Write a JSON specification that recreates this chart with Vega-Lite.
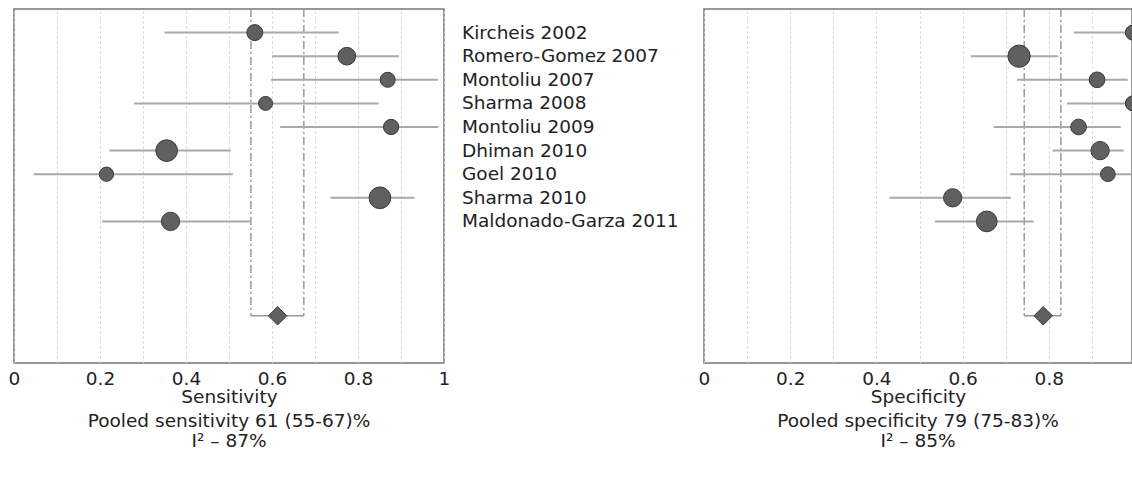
{
  "$schema": "https://vega.github.io/schema/vega-lite/v6.json",
  "padding": {"left": 7, "top": 7, "right": 0, "bottom": 5},
  "datasets": {
    "sens": [
      {"study": "Kircheis 2002", "est": 0.56, "lo": 0.35, "hi": 0.755, "weight": 16},
      {"study": "Romero-Gomez 2007", "est": 0.774, "lo": 0.6, "hi": 0.895, "weight": 17.7},
      {"study": "Montoliu 2007", "est": 0.869, "lo": 0.598, "hi": 0.986, "weight": 15},
      {"study": "Sharma 2008", "est": 0.585, "lo": 0.279, "hi": 0.848, "weight": 14},
      {"study": "Montoliu 2009", "est": 0.877, "lo": 0.619, "hi": 0.987, "weight": 15.3},
      {"study": "Dhiman 2010", "est": 0.355, "lo": 0.222, "hi": 0.504, "weight": 21.7},
      {"study": "Goel 2010", "est": 0.215, "lo": 0.046, "hi": 0.509, "weight": 14.3},
      {"study": "Sharma 2010", "est": 0.851, "lo": 0.736, "hi": 0.931, "weight": 21.7},
      {"study": "Maldonado-Garza 2011", "est": 0.364, "lo": 0.205, "hi": 0.551, "weight": 18.3}
    ],
    "spec": [
      {"study": "Kircheis 2002", "est": 0.995, "lo": 0.858, "hi": 1.0, "weight": 15},
      {"study": "Romero-Gomez 2007", "est": 0.731, "lo": 0.619, "hi": 0.821, "weight": 22.3},
      {"study": "Montoliu 2007", "est": 0.912, "lo": 0.726, "hi": 0.983, "weight": 15.7},
      {"study": "Sharma 2008", "est": 0.995, "lo": 0.842, "hi": 1.0, "weight": 15},
      {"study": "Montoliu 2009", "est": 0.869, "lo": 0.672, "hi": 0.967, "weight": 15.7},
      {"study": "Dhiman 2010", "est": 0.919, "lo": 0.809, "hi": 0.974, "weight": 18.3},
      {"study": "Goel 2010", "est": 0.937, "lo": 0.71, "hi": 1.0, "weight": 14.7},
      {"study": "Sharma 2010", "est": 0.577, "lo": 0.43, "hi": 0.712, "weight": 18.3},
      {"study": "Maldonado-Garza 2011", "est": 0.656, "lo": 0.536, "hi": 0.765, "weight": 20.7}
    ],
    "pooled": [
      {"panel": "sens", "study": "Pooled", "est": 0.613, "lo": 0.551, "hi": 0.674},
      {"panel": "spec", "study": "Pooled", "est": 0.787, "lo": 0.743, "hi": 0.828}
    ]
  },
  "hconcat": [
    {
      "width": 430,
      "height": 354,
      "title": {"text": ["Pooled sensitivity 61 (55-67)%", "I² – 87%"]},
      "layer": [
        {
          "data": {"name": "pooled"},
          "transform": [{"filter": "datum.panel == 'sens'"}],
          "mark": {"type": "rule", "color": "#9a9a9a", "strokeWidth": 1.5, "strokeDash": [8, 3, 2, 3]},
          "encoding": {
            "x": {"field": "lo", "type": "quantitative", "title": "Sensitivity", "scale": {"domain": [0, 1], "nice": false, "zero": false}, "axis": {"values": [0, 0.1, 0.2, 0.3, 0.4, 0.5, 0.6, 0.7, 0.8, 0.9, 1]}},
            "y": {"datum": "_t0", "type": "ordinal", "axis": null, "scale": {"type": "point", "padding": 0, "domain": ["_t0", "Kircheis 2002", "Romero-Gomez 2007", "Montoliu 2007", "Sharma 2008", "Montoliu 2009", "Dhiman 2010", "Goel 2010", "Sharma 2010", "Maldonado-Garza 2011", "_g1", "_g2", "_g3", "Pooled", "_b1", "_b2"]}},
            "y2": {"datum": "Pooled"}
          }
        },
        {
          "data": {"name": "pooled"},
          "transform": [{"filter": "datum.panel == 'sens'"}],
          "mark": {"type": "rule", "color": "#9a9a9a", "strokeWidth": 1.5, "strokeDash": [8, 3, 2, 3]},
          "encoding": {
            "x": {"field": "hi", "type": "quantitative", "title": "Sensitivity"},
            "y": {"datum": "_t0", "type": "ordinal", "axis": null},
            "y2": {"datum": "Pooled"}
          }
        },
        {
          "data": {"name": "pooled"},
          "transform": [{"filter": "datum.panel == 'sens'"}],
          "mark": {"type": "rule", "color": "#9a9a9a", "strokeWidth": 1.5},
          "encoding": {
            "x": {"field": "lo", "type": "quantitative", "title": "Sensitivity"},
            "x2": {"field": "hi"},
            "y": {"field": "study", "type": "ordinal", "axis": null}
          }
        },
        {
          "data": {"name": "sens"},
          "mark": {"type": "rule", "color": "#a9a9a9", "strokeWidth": 2},
          "encoding": {
            "x": {"field": "lo", "type": "quantitative", "title": "Sensitivity"},
            "x2": {"field": "hi"},
            "y": {"field": "study", "type": "ordinal", "axis": null}
          }
        },
        {
          "data": {"name": "sens"},
          "mark": {"type": "circle", "opacity": 1, "fill": "#606060", "stroke": "#3a3a3a", "strokeWidth": 1},
          "encoding": {
            "x": {"field": "est", "type": "quantitative", "title": "Sensitivity"},
            "y": {"field": "study", "type": "ordinal", "axis": null},
            "size": {"field": "weight", "type": "quantitative", "legend": null, "scale": {"type": "pow", "exponent": 2, "domain": [0, 20], "range": [0, 400]}}
          }
        },
        {
          "data": {"name": "pooled"},
          "transform": [{"filter": "datum.panel == 'sens'"}],
          "mark": {"type": "point", "shape": "diamond", "filled": true, "opacity": 1, "fill": "#606060", "stroke": "#3a3a3a", "strokeWidth": 1, "size": 340},
          "encoding": {
            "x": {"field": "est", "type": "quantitative", "title": "Sensitivity"},
            "y": {"field": "study", "type": "ordinal", "axis": null}
          }
        },
        {
          "data": {"name": "sens"},
          "mark": {"type": "text", "align": "left", "baseline": "middle", "dx": 18, "fontSize": 18.5, "color": "#222222"},
          "encoding": {
            "x": {"datum": 1, "type": "quantitative"},
            "y": {"field": "study", "type": "ordinal", "axis": null},
            "text": {"field": "study"}
          }
        }
      ]
    },
    {
      "width": 428,
      "height": 354,
      "title": {"text": ["Pooled specificity 79 (75-83)%", "I² – 85%"]},
      "layer": [
        {
          "data": {"name": "pooled"},
          "transform": [{"filter": "datum.panel == 'spec'"}],
          "mark": {"type": "rule", "color": "#9a9a9a", "strokeWidth": 1.5, "strokeDash": [8, 3, 2, 3]},
          "encoding": {
            "x": {"field": "lo", "type": "quantitative", "title": "Specificity", "scale": {"domain": [0, 0.993], "nice": false, "zero": false}, "axis": {"values": [0, 0.1, 0.2, 0.3, 0.4, 0.5, 0.6, 0.7, 0.8, 0.9]}},
            "y": {"datum": "_t0", "type": "ordinal", "axis": null, "scale": {"type": "point", "padding": 0, "domain": ["_t0", "Kircheis 2002", "Romero-Gomez 2007", "Montoliu 2007", "Sharma 2008", "Montoliu 2009", "Dhiman 2010", "Goel 2010", "Sharma 2010", "Maldonado-Garza 2011", "_g1", "_g2", "_g3", "Pooled", "_b1", "_b2"]}},
            "y2": {"datum": "Pooled"}
          }
        },
        {
          "data": {"name": "pooled"},
          "transform": [{"filter": "datum.panel == 'spec'"}],
          "mark": {"type": "rule", "color": "#9a9a9a", "strokeWidth": 1.5, "strokeDash": [8, 3, 2, 3]},
          "encoding": {
            "x": {"field": "hi", "type": "quantitative", "title": "Specificity"},
            "y": {"datum": "_t0", "type": "ordinal", "axis": null},
            "y2": {"datum": "Pooled"}
          }
        },
        {
          "data": {"name": "pooled"},
          "transform": [{"filter": "datum.panel == 'spec'"}],
          "mark": {"type": "rule", "color": "#9a9a9a", "strokeWidth": 1.5},
          "encoding": {
            "x": {"field": "lo", "type": "quantitative", "title": "Specificity"},
            "x2": {"field": "hi"},
            "y": {"field": "study", "type": "ordinal", "axis": null}
          }
        },
        {
          "data": {"name": "spec"},
          "mark": {"type": "rule", "color": "#a9a9a9", "strokeWidth": 2, "clip": true},
          "encoding": {
            "x": {"field": "lo", "type": "quantitative", "title": "Specificity"},
            "x2": {"field": "hi"},
            "y": {"field": "study", "type": "ordinal", "axis": null}
          }
        },
        {
          "data": {"name": "spec"},
          "mark": {"type": "circle", "opacity": 1, "fill": "#606060", "stroke": "#3a3a3a", "strokeWidth": 1, "clip": true},
          "encoding": {
            "x": {"field": "est", "type": "quantitative", "title": "Specificity"},
            "y": {"field": "study", "type": "ordinal", "axis": null},
            "size": {"field": "weight", "type": "quantitative", "legend": null, "scale": {"type": "pow", "exponent": 2, "domain": [0, 20], "range": [0, 400]}}
          }
        },
        {
          "data": {"name": "pooled"},
          "transform": [{"filter": "datum.panel == 'spec'"}],
          "mark": {"type": "point", "shape": "diamond", "filled": true, "opacity": 1, "fill": "#606060", "stroke": "#3a3a3a", "strokeWidth": 1, "size": 340},
          "encoding": {
            "x": {"field": "est", "type": "quantitative", "title": "Specificity"},
            "y": {"field": "study", "type": "ordinal", "axis": null}
          }
        }
      ]
    }
  ],
  "spacing": 260,
  "bounds": "flush",
  "resolve": {"scale": {"x": "independent", "size": "independent", "y": "independent"}, "axis": {"x": "independent"}},
  "config": {
    "font": "DejaVu Sans",
    "view": {"stroke": "#777777", "strokeWidth": 1.5},
    "axisX": {
      "format": "~g",
      "labelExpr": "round(datum.value * 10) % 2 == 0 ? datum.label : ''",
      "grid": true,
      "gridDash": [2, 3],
      "gridColor": "#cfcfcf",
      "gridWidth": 1,
      "ticks": false,
      "domain": false,
      "labelFlush": false,
      "labelFontSize": 18.5,
      "labelColor": "#222222",
      "labelPadding": 6,
      "titleFontSize": 18.5,
      "titleFontWeight": "normal",
      "titleColor": "#222222",
      "titlePadding": 0
    },
    "title": {"fontSize": 18.5, "fontWeight": "normal", "color": "#222222", "orient": "bottom", "anchor": "middle", "offset": 6, "lineHeight": 20}
  }
}
